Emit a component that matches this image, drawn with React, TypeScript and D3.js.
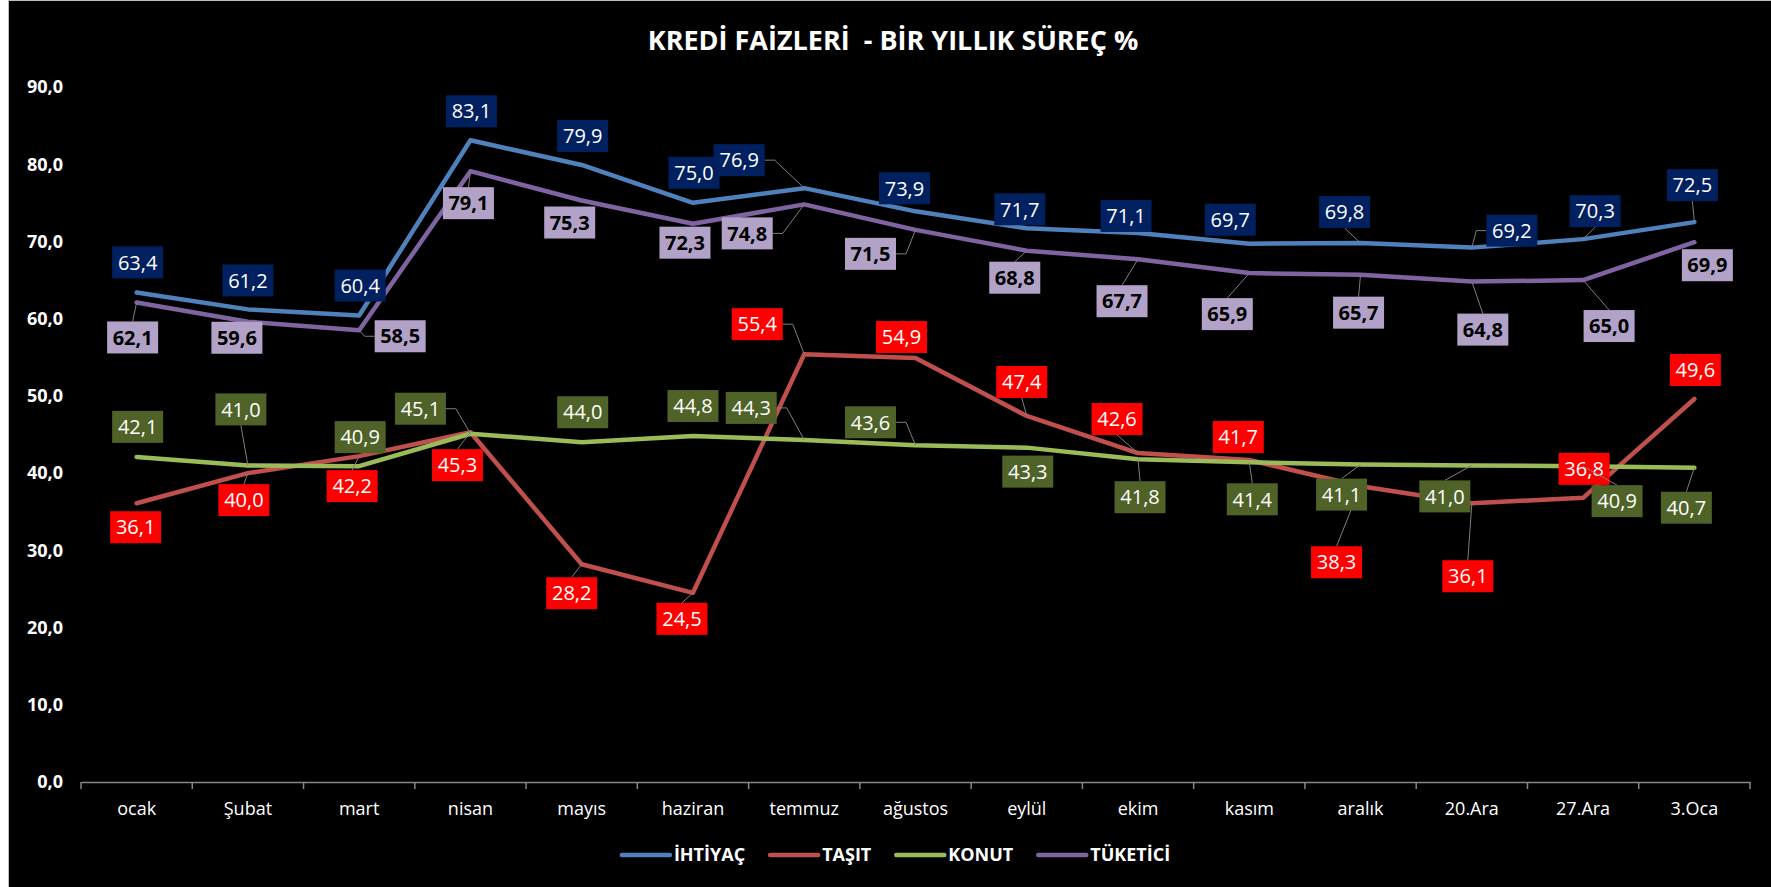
import React, { useEffect, useRef } from 'react';
import * as d3 from 'd3';

// kategoriler (aylar / haftalar)
const categories = ['ocak', 'Şubat', 'mart', 'nisan', 'mayıs', 'haziran', 'temmuz', 'ağustos', 'eylül', 'ekim', 'kasım', 'aralık', '20.Ara', '27.Ara', '3.Oca'];

// seri değerleri
const ihtiyac = [63.4, 61.2, 60.4, 83.1, 79.9, 75.0, 76.9, 73.9, 71.7, 71.1, 69.7, 69.8, 69.2, 70.3, 72.5];
const tasit = [36.1, 40.0, 42.2, 45.3, 28.2, 24.5, 55.4, 54.9, 47.4, 42.6, 41.7, 38.3, 36.1, 36.8, 49.6];
const konut = [42.1, 41.0, 40.9, 45.1, 44.0, 44.8, 44.3, 43.6, 43.3, 41.8, 41.4, 41.1, 41.0, 40.9, 40.7];
const tuketici = [62.1, 59.6, 58.5, 79.1, 75.3, 72.3, 74.8, 71.5, 68.8, 67.7, 65.9, 65.7, 64.8, 65.0, 69.9];

const yTicks = [0, 10, 20, 30, 40, 50, 60, 70, 80, 90];
const seriesNames = ['İHTİYAÇ', 'TAŞIT', 'KONUT', 'TÜKETİCİ'];
const title = 'KREDİ FAİZLERİ  - BİR YILLIK SÜREÇ %';

// etiket yerleşimi (nokta merkezine göre kaydırma px, bağlantı çizgisi)
const ihtiyacLabelPos = [[1, -30], [0, -29], [1, -30], [1, -29], [1, -29], [1, -30], [-65, -28, 1], [-11, -23], [-7, -19], [-12, -17], [-19, -24], [-16, -31, 1], [40, -17, 1], [12, -28, 1], [-2, -37, 1]];
const tasitLabelPos = [[-1, 24], [-4, 27, 1], [-7, 30, 1], [-13, 33, 1], [-10, 29, 1], [-11, 26, 1], [-47, -30, 1], [-14, -21], [-5, -34, 1], [-21, -34, 1], [-11, -23], [-24, 76, 1], [-4, 73, 1], [1, -29], [1, -29]];
const konutLabelPos = [[1, -30], [-7, -56, 1], [1, -29], [-50, -25, 1], [1, -30], [0, -30], [-53, -32, 1], [-45, -23, 1], [1, 24], [2, 38, 1], [3, 37, 1], [-19, 30, 1], [-27, 31, 1], [34, 35, 1], [-8, 40, 1]];
const tuketiciLabelPos = [[-4, 35, 1], [-11, 16], [41, 6, 1], [-2, 32, 1], [-12, 22], [-8, 19], [-57, 29, 1], [-45, 24, 1], [-12, 27, 1], [-16, 42, 1], [-22, 41, 1], [-2, 38, 1], [11, 48, 1], [26, 46, 1], [13, 23]];

const FONT = "'Open Sans', 'Noto Sans', sans-serif";

const App = () => {
  const ref = useRef<SVGSVGElement | null>(null);

  useEffect(() => {
    if (ref.current) draw();
  }, []);

  const draw = () => {
    const svg = d3.select(ref.current);
    svg.selectAll('*').remove();

    const width = 1771;
    const height = 887;
    const margin = { left: 81, right: 21, top: 87, bottom: 105 };

    // arka plan
    svg.append('rect').attr('width', width).attr('height', height).attr('fill', '#fff');
    svg.append('rect')
      .attr('x', 8.5).attr('y', 0.5)
      .attr('width', width).attr('height', height + 10)
      .attr('fill', '#000')
      .attr('stroke', '#bfbfbf');

    const x = d3.scaleBand().domain(categories).range([margin.left, width - margin.right]).padding(0);
    const y = d3.scaleLinear().domain([0, 90]).range([height - margin.bottom, margin.top]);
    const cx = (c: string) => (x(c) as number) + x.bandwidth() / 2;
    const fmt = (v: number) => d3.format('.1f')(v).replace('.', ',');

    // başlık
    svg.append('text')
      .attr('x', 893).attr('y', 50)
      .attr('text-anchor', 'middle')
      .style('white-space', 'pre')
      .style('font-family', FONT).style('font-size', '27px').style('font-weight', 700)
      .attr('fill', '#fff')
      .text(title);

    // y ekseni etiketleri
    svg.append('g').selectAll('text')
      .data(yTicks)
      .join('text')
      .attr('x', 63)
      .attr('y', d => y(d))
      .attr('dy', '0.35em')
      .attr('text-anchor', 'end')
      .style('font-family', FONT).style('font-size', '18px').style('font-weight', 700)
      .attr('fill', '#fff')
      .text(d => fmt(d));

    // x ekseni
    const xAxis = svg.append('g')
      .attr('transform', `translate(0, ${y(0)})`)
      .call(d3.axisBottom(x).tickSize(0).tickPadding(20));
    xAxis.select('.domain').attr('stroke', '#868686').attr('stroke-width', 1.5);
    xAxis.selectAll('.tick text')
      .attr('fill', '#fff')
      .style('font-family', FONT).style('font-size', '18px');
    const bounds = categories.map(c => x(c) as number).concat([width - margin.right]);
    xAxis.append('g').selectAll('line')
      .data(bounds)
      .join('line')
      .attr('x1', d => d).attr('x2', d => d)
      .attr('y1', 0).attr('y2', 7)
      .attr('stroke', '#868686').attr('stroke-width', 1.5);

    const series = [
      { name: seriesNames[0], values: ihtiyac, pos: ihtiyacLabelPos, line: '#4F81BD', box: '#002060', text: '#fff', bold: false },
      { name: seriesNames[1], values: tasit, pos: tasitLabelPos, line: '#C0504D', box: '#FF0000', text: '#fff', bold: false },
      { name: seriesNames[2], values: konut, pos: konutLabelPos, line: '#9BBB59', box: '#4F6228', text: '#fff', bold: false },
      { name: seriesNames[3], values: tuketici, pos: tuketiciLabelPos, line: '#8064A2', box: '#B3A2C7', text: '#000', bold: true },
    ];

    // çizgiler
    const line = d3.line<number>()
      .x((_, i) => cx(categories[i]))
      .y(d => y(d));
    series.forEach(s => {
      svg.append('path')
        .datum(s.values)
        .attr('d', line)
        .attr('fill', 'none')
        .attr('stroke', s.line)
        .attr('stroke-width', 4.5)
        .attr('stroke-linejoin', 'round')
        .attr('stroke-linecap', 'round');
    });

    // veri etiketleri
    const bw = 51;
    const bh = 32;
    series.forEach(s => {
      const g = svg.append('g');
      s.values.forEach((v, i) => {
        const px = cx(categories[i]);
        const py = y(v);
        const [dx, dy, leader] = s.pos[i];
        const bx = px + dx;
        const by = py + dy;
        if (leader) {
          const horiz = Math.abs(dx) - bw / 2 > Math.abs(dy) - bh / 2;
          let pts: [number, number][];
          if (horiz) {
            const side = dx < 0 ? bx + bw / 2 : bx - bw / 2;
            const elbow = dx < 0 ? side + 10 : side - 10;
            pts = [[side, by], [elbow, by], [px, py]];
          } else {
            const edge = dy < 0 ? by + bh / 2 : by - bh / 2;
            pts = [[bx, edge], [px, py]];
          }
          g.append('path')
            .attr('d', d3.line()(pts))
            .attr('fill', 'none')
            .attr('stroke', '#7f7f7f')
            .attr('stroke-width', 1);
        }
        g.append('rect')
          .attr('x', bx - bw / 2).attr('y', by - bh / 2)
          .attr('width', bw).attr('height', bh)
          .attr('fill', s.box);
        g.append('text')
          .attr('x', bx).attr('y', by)
          .attr('dy', '0.36em')
          .attr('text-anchor', 'middle')
          .style('font-family', FONT).style('font-size', '20px')
          .style('font-weight', s.bold ? 700 : 400)
          .attr('fill', s.text)
          .text(fmt(v));
      });
    });

    // lejant
    const legend = svg.append('g');
    const items = series.map(s => {
      const it = legend.append('g');
      it.append('line')
        .attr('x1', 0).attr('x2', 48)
        .attr('y1', 0).attr('y2', 0)
        .attr('stroke', s.line).attr('stroke-width', 4.5).attr('stroke-linecap', 'round');
      const t = it.append('text')
        .attr('x', 52).attr('dy', '0.35em')
        .style('font-family', FONT).style('font-size', '18px').style('font-weight', 700)
        .attr('fill', '#fff')
        .text(s.name);
      const w = 52 + (t.node() as SVGTextElement).getComputedTextLength();
      return { it, w };
    });
    const gap = 25;
    const total = d3.sum(items, d => d.w) + gap * (items.length - 1);
    let lx = 896 - total / 2;
    items.forEach(d => {
      d.it.attr('transform', `translate(${lx}, 855)`);
      lx += d.w + gap;
    });
  };

  return (
    <svg
      ref={ref}
      width={1771}
      height={887}
      style={{ position: 'absolute', left: 0, top: 0, display: 'block' }}
    />
  );
};

export default App;
